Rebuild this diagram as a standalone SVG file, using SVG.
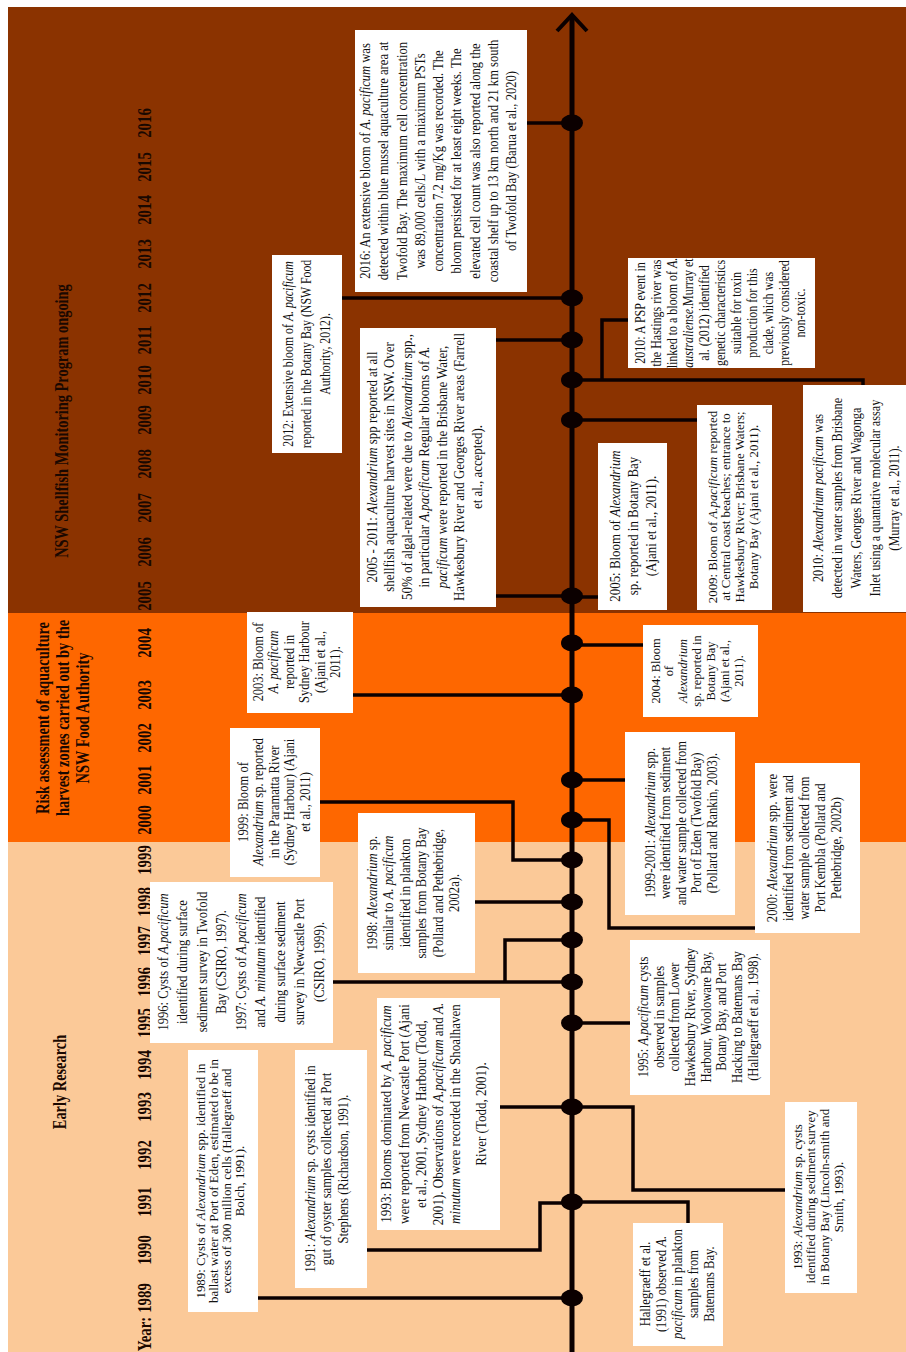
<svg xmlns="http://www.w3.org/2000/svg" width="906" height="1352" viewBox="0 0 906 1352">
<style>
.box{fill:#ffffff}
.t{font-family:"Liberation Serif","Times New Roman",serif;fill:#111;text-anchor:middle}
.i{font-style:italic}
.h{font-family:"Liberation Serif","Times New Roman",serif;font-weight:bold;fill:#1a0800;text-anchor:middle}
.c{fill:none;stroke:#0b0000;stroke-width:3.5}
.dot{fill:#0b0000}
</style>
<rect x="0" y="0" width="906" height="1352" fill="#ffffff"/>
<g id="bands">
<rect x="8" y="7" width="898" height="606" fill="#8B3300"/>
<rect x="8" y="613" width="898" height="229" fill="#FE6700"/>
<rect x="8" y="842" width="898" height="510" fill="#FBC998"/>
</g>
<g id="headings">
<text class="h" font-size="18" transform="translate(68,421) rotate(-90) scale(0.8,1)">NSW Shellfish Monitoring Program ongoing</text>
<text class="h" font-size="18" transform="translate(49,718) rotate(-90) scale(0.8,1)"><tspan x="0" y="0">Risk assessment of aquaculture</tspan><tspan x="0" dy="20">harvest zones carried out by the</tspan><tspan x="0" dy="20">NSW Food Authority</tspan></text>
<text class="h" font-size="18" transform="translate(66,1082) rotate(-90) scale(0.8,1)">Early Research</text>
</g>
<g id="years" class="h" font-size="18.5">
<text transform="translate(151,1334) rotate(-90) scale(0.8,1)">Year:</text>
<text transform="translate(151,1298) rotate(-90) scale(0.8,1)">1989</text>
<text transform="translate(151,1250) rotate(-90) scale(0.8,1)">1990</text>
<text transform="translate(151,1202) rotate(-90) scale(0.8,1)">1991</text>
<text transform="translate(151,1155) rotate(-90) scale(0.8,1)">1992</text>
<text transform="translate(151,1107) rotate(-90) scale(0.8,1)">1993</text>
<text transform="translate(151,1065) rotate(-90) scale(0.8,1)">1994</text>
<text transform="translate(151,1023) rotate(-90) scale(0.8,1)">1995</text>
<text transform="translate(151,982) rotate(-90) scale(0.8,1)">1996</text>
<text transform="translate(151,941) rotate(-90) scale(0.8,1)">1997</text>
<text transform="translate(151,902) rotate(-90) scale(0.8,1)">1998</text>
<text transform="translate(151,860) rotate(-90) scale(0.8,1)">1999</text>
<text transform="translate(151,820) rotate(-90) scale(0.8,1)">2000</text>
<text transform="translate(151,780) rotate(-90) scale(0.8,1)">2001</text>
<text transform="translate(151,738) rotate(-90) scale(0.8,1)">2002</text>
<text transform="translate(151,695) rotate(-90) scale(0.8,1)">2003</text>
<text transform="translate(151,643) rotate(-90) scale(0.8,1)">2004</text>
<text transform="translate(151,596) rotate(-90) scale(0.8,1)">2005</text>
<text transform="translate(151,552) rotate(-90) scale(0.8,1)">2006</text>
<text transform="translate(151,508) rotate(-90) scale(0.8,1)">2007</text>
<text transform="translate(151,464) rotate(-90) scale(0.8,1)">2008</text>
<text transform="translate(151,420) rotate(-90) scale(0.8,1)">2009</text>
<text transform="translate(151,380) rotate(-90) scale(0.8,1)">2010</text>
<text transform="translate(151,340) rotate(-90) scale(0.8,1)">2011</text>
<text transform="translate(151,298) rotate(-90) scale(0.8,1)">2012</text>
<text transform="translate(151,254) rotate(-90) scale(0.8,1)">2013</text>
<text transform="translate(151,210) rotate(-90) scale(0.8,1)">2014</text>
<text transform="translate(151,167) rotate(-90) scale(0.8,1)">2015</text>
<text transform="translate(151,123) rotate(-90) scale(0.8,1)">2016</text>
</g>
<g id="connectors">
<path class="c" d="M571,123 H527"/>
<path class="c" d="M571,298 H342"/>
<path class="c" d="M571,340 H496"/>
<path class="c" d="M571,596 H496"/>
<path class="c" d="M571,695 H353"/>
<path class="c" d="M571,860 H513 V802 H320"/>
<path class="c" d="M571,902 H475"/>
<path class="c" d="M571,940 H505 V982"/>
<path class="c" d="M571,982 H333"/>
<path class="c" d="M571,1107 H500"/>
<path class="c" d="M571,1203 H540 V1250 H367"/>
<path class="c" d="M571,1298 H258"/>
<path class="c" d="M571,380 H863 V386"/>
<path class="c" d="M602,380 V320 H628"/>
<path class="c" d="M571,420 H697"/>
<path class="c" d="M571,597 H598"/>
<path class="c" d="M571,645 H643"/>
<path class="c" d="M571,780 H625"/>
<path class="c" d="M571,820 H609 V928 H755"/>
<path class="c" d="M571,1023 H630"/>
<path class="c" d="M571,1107 H633 V1190 H785"/>
<path class="c" d="M571,1202 H688 V1223"/>
</g>
<g id="axis">
<line x1="572" y1="16" x2="572" y2="1352" stroke="#0b0000" stroke-width="5"/>
<polyline points="557,31 572,15 587,31" fill="none" stroke="#0b0000" stroke-width="4"/>
<g class="dot">
<ellipse cx="572" cy="123" rx="11" ry="8.5"/>
<ellipse cx="572" cy="298" rx="11" ry="8.5"/>
<ellipse cx="572" cy="340" rx="11" ry="8.5"/>
<ellipse cx="572" cy="380" rx="11" ry="8.5"/>
<ellipse cx="572" cy="420" rx="11" ry="8.5"/>
<ellipse cx="572" cy="596" rx="11" ry="8.5"/>
<ellipse cx="572" cy="643" rx="11" ry="8.5"/>
<ellipse cx="572" cy="695" rx="11" ry="8.5"/>
<ellipse cx="572" cy="780" rx="11" ry="8.5"/>
<ellipse cx="572" cy="820" rx="11" ry="8.5"/>
<ellipse cx="572" cy="860" rx="11" ry="8.5"/>
<ellipse cx="572" cy="902" rx="11" ry="8.5"/>
<ellipse cx="572" cy="940" rx="11" ry="8.5"/>
<ellipse cx="572" cy="982" rx="11" ry="8.5"/>
<ellipse cx="572" cy="1023" rx="11" ry="8.5"/>
<ellipse cx="572" cy="1107" rx="11" ry="8.5"/>
<ellipse cx="572" cy="1202" rx="11" ry="8.5"/>
<ellipse cx="572" cy="1298" rx="11" ry="8.5"/>
</g>
</g>
<g id="n2016">
<rect class="box" x="355" y="30" width="172" height="262"/>
<text class="t" font-size="15" transform="translate(370,161) rotate(-90) scale(0.84,1)"><tspan x="0" y="0">2016: An extensive bloom of <tspan class="i">A. pacificum</tspan> was</tspan><tspan x="0" dy="18.3">detected within blue mussel aquaculture area at</tspan><tspan x="0" dy="18.3">Twofold Bay. The maximum cell concentration</tspan><tspan x="0" dy="18.3">was 89,000 cells/L with a miaximum PSTs</tspan><tspan x="0" dy="18.3">concentration 7.2 mg/Kg was recorded. The</tspan><tspan x="0" dy="18.3">bloom persisted for at least eight weeks. The</tspan><tspan x="0" dy="18.3">elevated cell count was also reported along the</tspan><tspan x="0" dy="18.3">coastal shelf up to 13 km north and 21 km south</tspan><tspan x="0" dy="18.3">of Twofold Bay (Barua et al., 2020)</tspan></text>
</g>
<g id="n2012">
<rect class="box" x="272" y="255" width="70" height="198"/>
<text class="t" font-size="15" transform="translate(293,354) rotate(-90) scale(0.79,1)"><tspan x="0" y="0">2012: Extensive bloom of <tspan class="i">A. pacificum</tspan></tspan><tspan x="0" dy="18.5">reported in the Botany Bay (NSW Food</tspan><tspan x="0" dy="18.5">Authority, 2012).</tspan></text>
</g>
<g id="n2005-2011">
<rect class="box" x="360" y="328" width="136" height="279"/>
<text class="t" font-size="15" transform="translate(377,467) rotate(-90) scale(0.86,1)"><tspan x="0" y="0">2005 - 2011: <tspan class="i">Alexandrium</tspan> spp reported at all</tspan><tspan x="0" dy="17.5">shellfish aquaculture harvest sites in NSW. Over</tspan><tspan x="0" dy="17.5">50% of algal-related were due to <tspan class="i">Alexandrium</tspan> spp.,</tspan><tspan x="0" dy="17.5">in particular <tspan class="i">A.pacificum</tspan> Regular blooms of <tspan class="i">A.</tspan></tspan><tspan x="0" dy="17.5"><tspan class="i">pacificum</tspan> were reported in the Brisbane Water,</tspan><tspan x="0" dy="17.5">Hawkesbury River and Georges River areas (Farrell</tspan><tspan x="0" dy="17.5">et al., accepted).</tspan></text>
</g>
<g id="n2005">
<rect class="box" x="598" y="443" width="69" height="167"/>
<text class="t" font-size="15" transform="translate(620,526) rotate(-90) scale(0.86,1)"><tspan x="0" y="0">2005: Bloom of <tspan class="i">Alexandrium</tspan></tspan><tspan x="0" dy="18">sp. reported in Botany Bay</tspan><tspan x="0" dy="18">(Ajani et al., 2011).</tspan></text>
</g>
<g id="n2009">
<rect class="box" x="697" y="405" width="75" height="205"/>
<text class="t" font-size="13" transform="translate(716.5,507) rotate(-90) scale(0.99,1)"><tspan x="0" y="0">2009: Bloom of <tspan class="i">A.pacificum</tspan> reported</tspan><tspan x="0" dy="14">at Central coast beaches; entrance to</tspan><tspan x="0" dy="14">Hawkesbury River; Brisbane Waters;</tspan><tspan x="0" dy="14">Botany Bay (Ajani et al., 2011).</tspan></text>
</g>
<g id="n2010psp">
<rect class="box" x="628" y="258" width="187" height="110"/>
<text class="t" font-size="15" transform="translate(645,313) rotate(-90) scale(0.8,1)"><tspan x="0" y="0">2010: A PSP event in</tspan><tspan x="0" dy="16">the Hastings river was</tspan><tspan x="0" dy="16">linked to a bloom of <tspan class="i">A.</tspan></tspan><tspan x="0" dy="16"><tspan class="i">australiense</tspan>.Murray et</tspan><tspan x="0" dy="16">al. (2012) identified</tspan><tspan x="0" dy="16">genetic characteristics</tspan><tspan x="0" dy="16">suitable for toxin</tspan><tspan x="0" dy="16">production for this</tspan><tspan x="0" dy="16">clade, which was</tspan><tspan x="0" dy="16">previously considered</tspan><tspan x="0" dy="16">non-toxic.</tspan></text>
</g>
<g id="n2010mol">
<rect class="box" x="803" y="385" width="103" height="227"/>
<text class="t" font-size="15" transform="translate(823,498) rotate(-90) scale(0.82,1)"><tspan x="0" y="0">2010: <tspan class="i">Alexandrium pacificum</tspan> was</tspan><tspan x="0" dy="19">detected in water samples from Brisbane</tspan><tspan x="0" dy="19">Waters, Georges River and Wagonga</tspan><tspan x="0" dy="19">Inlet using a quantative molecular assay</tspan><tspan x="0" dy="19">(Murray et al., 2011).</tspan></text>
</g>
<g id="n2003">
<rect class="box" x="247" y="612" width="106" height="101"/>
<text class="t" font-size="15" transform="translate(263,662) rotate(-90) scale(0.83,1)"><tspan x="0" y="0">2003: Bloom of</tspan><tspan x="0" dy="15.5" class="i">A. pacificum</tspan><tspan x="0" dy="15.5">reported in</tspan><tspan x="0" dy="15.5">Sydney Harbour</tspan><tspan x="0" dy="15.5">(Ajani et al.,</tspan><tspan x="0" dy="15.5">2011).</tspan></text>
</g>
<g id="n2004">
<rect class="box" x="643" y="625" width="115" height="92"/>
<text class="t" font-size="13.5" transform="translate(659.5,671) rotate(-90) scale(0.92,1)"><tspan x="0" y="0">2004: Bloom</tspan><tspan x="0" dy="14">of</tspan><tspan x="0" dy="14" class="i">Alexandrium</tspan><tspan x="0" dy="14">sp. reported in</tspan><tspan x="0" dy="14">Botany Bay</tspan><tspan x="0" dy="14">(Ajani et al.,</tspan><tspan x="0" dy="14">2011).</tspan></text>
</g>
<g id="n1999paramatta">
<rect class="box" x="230" y="728" width="90" height="149"/>
<text class="t" font-size="15" transform="translate(248,802) rotate(-90) scale(0.84,1)"><tspan x="0" y="0">1999: Bloom of</tspan><tspan x="0" dy="15.5"><tspan class="i">Alexandrium</tspan> sp. reported</tspan><tspan x="0" dy="15.5">in the Paramatta River</tspan><tspan x="0" dy="15.5">(Sydney Harbour) (Ajani</tspan><tspan x="0" dy="15.5">et al., 2011)</tspan></text>
</g>
<g id="n1999-2001">
<rect class="box" x="625" y="732" width="110" height="183"/>
<text class="t" font-size="15" transform="translate(655,823) rotate(-90) scale(0.84,1)"><tspan x="0" y="0">1999-2001: <tspan class="i">Alexandrium</tspan> spp.</tspan><tspan x="0" dy="15.5">were identified from sediment</tspan><tspan x="0" dy="15.5">and water sample collected from</tspan><tspan x="0" dy="15.5">Port of Eden (Twofold Bay)</tspan><tspan x="0" dy="15.5">(Pollard and Rankin, 2003).</tspan></text>
</g>
<g id="n2000">
<rect class="box" x="755" y="763" width="105" height="170"/>
<text class="t" font-size="15" transform="translate(777,848) rotate(-90) scale(0.84,1)"><tspan x="0" y="0">2000: <tspan class="i">Alexandrium</tspan> spp. were</tspan><tspan x="0" dy="16">identified from sediment and</tspan><tspan x="0" dy="16">water sample collected from</tspan><tspan x="0" dy="16">Port Kembla (Pollard and</tspan><tspan x="0" dy="16">Pethebridge, 2002b)</tspan></text>
</g>
<g id="n1998">
<rect class="box" x="358" y="813" width="117" height="160"/>
<text class="t" font-size="15" transform="translate(377,893) rotate(-90) scale(0.84,1)"><tspan x="0" y="0">1998: <tspan class="i">Alexandrium</tspan> sp.</tspan><tspan x="0" dy="16.5">similar to <tspan class="i">A. pacificum</tspan></tspan><tspan x="0" dy="16.5">identified in plankton</tspan><tspan x="0" dy="16.5">samples from Botany Bay</tspan><tspan x="0" dy="16.5">(Pollard and Pethebridge,</tspan><tspan x="0" dy="16.5">2002a).</tspan></text>
</g>
<g id="n1996-1997">
<rect class="box" x="150" y="882" width="183" height="161"/>
<text class="t" font-size="15" transform="translate(168,962) rotate(-90) scale(0.84,1)"><tspan x="0" y="0">1996: Cysts of <tspan class="i">A.pacificum</tspan></tspan><tspan x="0" dy="19.5">identified during surface</tspan><tspan x="0" dy="19.5">sediment survey in Twofold</tspan><tspan x="0" dy="19.5">Bay (CSIRO, 1997).</tspan><tspan x="0" dy="19.5">1997: Cysts of <tspan class="i">A.pacificum</tspan></tspan><tspan x="0" dy="19.5">and <tspan class="i">A. minutum</tspan> identified</tspan><tspan x="0" dy="19.5">during surface sediment</tspan><tspan x="0" dy="19.5">survey in Newcastle Port</tspan><tspan x="0" dy="19.5">(CSIRO, 1999).</tspan></text>
</g>
<g id="n1995">
<rect class="box" x="630" y="940" width="140" height="155"/>
<text class="t" font-size="15" transform="translate(648,1017) rotate(-90) scale(0.84,1)"><tspan x="0" y="0">1995: <tspan class="i">A.pacificum</tspan> cysts</tspan><tspan x="0" dy="15.7">observed in samples</tspan><tspan x="0" dy="15.7">collected from Lower</tspan><tspan x="0" dy="15.7">Hawkesbury River, Sydney</tspan><tspan x="0" dy="15.7">Harbour, Wooloware Bay,</tspan><tspan x="0" dy="15.7">Botany Bay, and Port</tspan><tspan x="0" dy="15.7">Hacking to Batemans Bay</tspan><tspan x="0" dy="15.7">(Hallegraeff et al., 1998).</tspan></text>
</g>
<g id="n1993blooms">
<rect class="box" x="377" y="998" width="123" height="232"/>
<text class="t" font-size="15" transform="translate(391,1114) rotate(-90) scale(0.87,1)"><tspan x="0" y="0">1993: Blooms dominated by <tspan class="i">A. pacificum</tspan></tspan><tspan x="0" dy="18">were reported from Newcastle Port (Ajani</tspan><tspan x="0" dy="17">et al., 2001, Sydney Harbour (Todd,</tspan><tspan x="0" dy="17">2001). Observations of <tspan class="i">A.pacificum</tspan> and <tspan class="i">A.</tspan></tspan><tspan x="0" dy="17"><tspan class="i">minutum</tspan> were recorded in the Shoalhaven</tspan><tspan x="0" dy="26">River (Todd, 2001).</tspan></text>
</g>
<g id="n1993sediment">
<rect class="box" x="785" y="1102" width="72" height="191"/>
<text class="t" font-size="13" transform="translate(801.5,1197) rotate(-90) scale(0.99,1)"><tspan x="0" y="0">1993: <tspan class="i">Alexandrium</tspan> sp. cysts</tspan><tspan x="0" dy="14">identified during sediment survey</tspan><tspan x="0" dy="14">in Botany Bay (Lincoln-smith and</tspan><tspan x="0" dy="14">Smith, 1993).</tspan></text>
</g>
<g id="n1991">
<rect class="box" x="295" y="1050" width="72" height="238"/>
<text class="t" font-size="15" transform="translate(315,1169) rotate(-90) scale(0.84,1)"><tspan x="0" y="0">1991: <tspan class="i">Alexandrium</tspan> sp. cysts identified in</tspan><tspan x="0" dy="16.5">gut of oyster samples collected at Port</tspan><tspan x="0" dy="16.5">Stephens (Richardson, 1991).</tspan></text>
</g>
<g id="n1989">
<rect class="box" x="188" y="1050" width="70" height="262"/>
<text class="t" font-size="13.5" transform="translate(204.5,1181) rotate(-90) scale(0.955,1)"><tspan x="0" y="0">1989: Cysts of <tspan class="i">Alexandrium</tspan> spp. identified in</tspan><tspan x="0" dy="13.3">ballast water at Port of Eden, estimated to be in</tspan><tspan x="0" dy="13.3">excess of 300 million cells (Hallegraeff and</tspan><tspan x="0" dy="13.3">Bolch, 1991).</tspan></text>
</g>
<g id="n1991hallegraeff">
<rect class="box" x="633" y="1223" width="90" height="123"/>
<text class="t" font-size="15" transform="translate(650,1284) rotate(-90) scale(0.84,1)"><tspan x="0" y="0">Hallegraeff et al.</tspan><tspan x="0" dy="16">(1991) observed <tspan class="i">A.</tspan></tspan><tspan x="0" dy="16"><tspan class="i">pacificum</tspan> in plankton</tspan><tspan x="0" dy="16">samples from</tspan><tspan x="0" dy="16">Batemans Bay.</tspan></text>
</g>
</svg>
